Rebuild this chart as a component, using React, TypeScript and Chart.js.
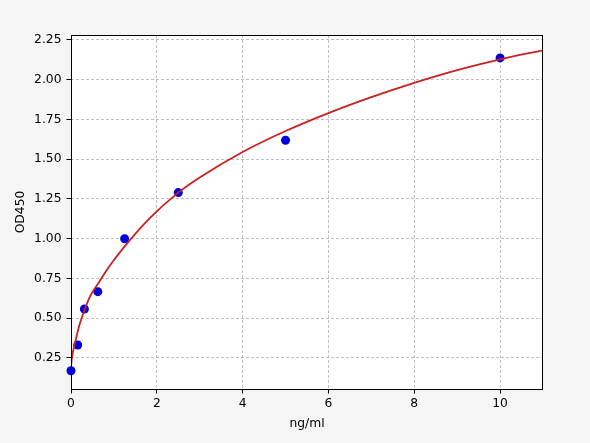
import { useEffect, useRef } from 'react';
import { Chart, registerables } from 'chart.js';

Chart.register(...registerables);

// standards
const STD_X = [0, 0.156, 0.3125, 0.625, 1.25, 2.5, 5, 10];
const STD_Y = [0.17, 0.332, 0.558, 0.667, 1.0, 1.29, 1.619, 2.137];

// fitted curve, sampled along the red line
const CURVE_X = [0, 0.016, 0.094, 0.2, 0.3, 0.45, 0.66, 0.85, 1.0, 1.25, 1.836, 2.5, 3.0, 4.0, 5.0, 6.0, 7.0, 8.0, 9.0, 10.0, 11.0];
const CURVE_Y = [0.19, 0.24, 0.344, 0.46, 0.54, 0.64, 0.73, 0.81, 0.865, 0.952, 1.13, 1.29, 1.385, 1.545, 1.677, 1.79, 1.89, 1.98, 2.06, 2.128, 2.185];

const X_TICKS = [0, 2, 4, 6, 8, 10];
const Y_TICKS = [0.25, 0.5, 0.75, 1.0, 1.25, 1.5, 1.75, 2.0, 2.25];

const FONT = 'DejaVu Sans';

const framePlugin = {
  id: 'frame',
  beforeDraw(chart: Chart) {
    const { ctx, chartArea: a } = chart;
    ctx.save();
    ctx.fillStyle = '#f5f5f5';
    ctx.fillRect(0, 0, chart.width, chart.height);
    ctx.fillStyle = '#ffffff';
    ctx.fillRect(a.left, a.top, a.right - a.left, a.bottom - a.top);
    ctx.restore();
  },
  afterDatasetsDraw(chart: Chart) {
    const { ctx, chartArea: a } = chart;
    ctx.save();
    ctx.strokeStyle = '#000000';
    ctx.lineWidth = 1;
    ctx.strokeRect(a.left + 0.5, a.top + 0.5, a.right - a.left - 1, a.bottom - a.top);
    ctx.restore();
  },
};

export default function App() {
  const canvasRef = useRef<HTMLCanvasElement>(null);

  useEffect(() => {
    document.body.style.margin = '0';
    if (!canvasRef.current) return;

    const gridCommon = {
      color: '#b0b0b0',
      lineWidth: 0.8,
      tickColor: '#000000',
      tickLength: 4.5,
      tickWidth: 1,
      tickBorderDash: [],
    };

    const chart = new Chart(canvasRef.current, {
      type: 'scatter',
      data: {
        datasets: [
          {
            label: 'fit',
            data: CURVE_X.map((x, i) => ({ x, y: CURVE_Y[i] })),
            showLine: true,
            borderColor: '#cc1f1f',
            borderWidth: 1.8,
            pointRadius: 0,
            cubicInterpolationMode: 'monotone',
            fill: false,
          },
          {
            label: 'standards',
            data: STD_X.map((x, i) => ({ x, y: STD_Y[i] })),
            backgroundColor: '#0000dd',
            borderColor: '#0000dd',
            pointRadius: 4.5,
            pointBorderWidth: 0,
            clip: false as any,
          },
        ],
      },
      options: {
        responsive: false,
        animation: false,
        layout: { padding: { left: 0, top: 35, right: 47, bottom: 0 } },
        plugins: {
          legend: { display: false },
          tooltip: { enabled: false },
        },
        scales: {
          x: {
            type: 'linear',
            min: 0,
            max: 11,
            afterBuildTicks: (s: any) => {
              s.ticks = X_TICKS.map((v) => ({ value: v }));
            },
            afterFit: (s: any) => {
              s.height = 54;
            },
            ticks: {
              color: '#000000',
              padding: 3,
              font: { family: FONT, size: 12.3 },
              callback: (v: any) => String(v),
            },
            grid: gridCommon,
            border: { display: false, dash: [3, 2] },
            title: {
              display: true,
              text: 'ng/ml',
              color: '#000000',
              font: { family: FONT, size: 12.3 },
              padding: { top: 0, bottom: 12 },
            },
          },
          y: {
            type: 'linear',
            min: 0.055,
            max: 2.281,
            afterBuildTicks: (s: any) => {
              s.ticks = Y_TICKS.map((v) => ({ value: v }));
            },
            afterFit: (s: any) => {
              s.width = 71;
            },
            ticks: {
              color: '#000000',
              padding: 5,
              font: { family: FONT, size: 12.3 },
              callback: (v: any) => Number(v).toFixed(2),
            },
            grid: gridCommon,
            border: { display: false, dash: [3, 2] },
            title: {
              display: true,
              text: 'OD450',
              color: '#000000',
              font: { family: FONT, size: 12.3 },
              padding: { top: 13, bottom: 0 },
            },
          },
        },
      },
      plugins: [framePlugin],
    });

    return () => {
      chart.destroy();
    };
  }, []);

  return (
    <div style={{ width: 590, height: 443 }}>
      <canvas ref={canvasRef} width={590} height={443} />
    </div>
  );
}
